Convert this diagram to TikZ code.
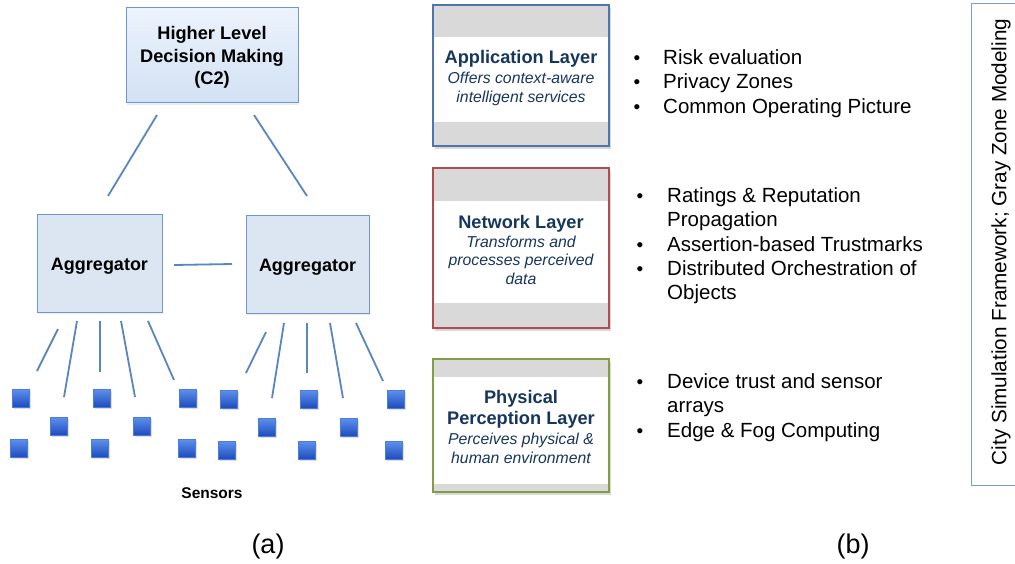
\documentclass[tikz,border=0pt]{standalone}
\usepackage{fontspec}
\setmainfont{Liberation Sans}
\usetikzlibrary{shadows}
\definecolor{boxline}{HTML}{6E98CC}
\definecolor{topA}{HTML}{ECF3FC}
\definecolor{topB}{HTML}{D2E1F4}
\definecolor{aggfill}{HTML}{DCE6F2}
\definecolor{wire}{HTML}{5A86C0}
\definecolor{sensA}{HTML}{5E92EC}
\definecolor{sensB}{HTML}{1E4BBD}
\definecolor{band}{HTML}{D9D9D9}
\definecolor{navy}{HTML}{17365D}
\definecolor{appline}{HTML}{4F76AB}
\definecolor{netline}{HTML}{B24B4B}
\definecolor{phyline}{HTML}{7F9E45}
\definecolor{sideline}{HTML}{7A9CCB}
\tikzset{
  topbox/.style={draw=boxline, line width=1pt, top color=topA, bottom color=topB,
    align=center, font=\bfseries\fontsize{18.2}{22.5}\selectfont,
    drop shadow={opacity=0.15, shadow xshift=1pt, shadow yshift=-2pt}},
  aggbox/.style={draw=boxline, line width=1pt, fill=aggfill,
    font=\bfseries\fontsize{18}{20}\selectfont,
    drop shadow={opacity=0.15, shadow xshift=1pt, shadow yshift=-2pt}},
  wireline/.style={draw=wire, line width=1.8pt},
  sensor/.style={draw=sensA!70!sensB, line width=0.5pt, top color=sensA, bottom color=sensB,
    minimum width=17pt, minimum height=18pt, inner sep=0pt,
    drop shadow={opacity=0.25, shadow xshift=1pt, shadow yshift=-1.5pt}},
  layerbox/.style={line width=1.2pt, fill=white,
    drop shadow={opacity=0.3, shadow xshift=1.5pt, shadow yshift=-2.5pt}},
  ltitle/.style={anchor=base, text=navy, font=\bfseries\fontsize{18.2}{20}\selectfont},
  lsub/.style={anchor=base, text=navy, font=\itshape\fontsize{15.8}{18}\selectfont},
  btxt/.style={anchor=base west, font=\fontsize{20.5}{24}\selectfont, inner sep=0pt},
  bdot/.style={anchor=base, font=\fontsize{19}{22}\selectfont, inner sep=0pt},
  caption/.style={font=\fontsize{27}{30}\selectfont}
}
\begin{document}
\begin{tikzpicture}[x=1pt,y=-1pt]
\useasboundingbox (0,0) rectangle (1015,563);
\fill[white] (0,0) rectangle (1015,563);

% ---------- (a) ----------
\node[topbox, minimum width=172pt, minimum height=95pt] (c2) at (212,55) {};
\node[align=center, font=\bfseries\fontsize{18.2}{22.5}\selectfont] (c2t) at (212,57.5) {Higher Level\\Decision Making\\(C2)};
\node[aggbox, minimum width=125pt, minimum height=98pt] (agg1) at (99.5,263) {};
\node[font=\bfseries\fontsize{18}{20}\selectfont] (agg1t) at (99.5,266) {Aggregator};
\node[aggbox, minimum width=123pt, minimum height=98pt] (agg2) at (307.5,264) {};
\node[font=\bfseries\fontsize{18}{20}\selectfont] (agg2t) at (307.5,267) {Aggregator};

\coordinate (t1a) at (157,115); \coordinate (t1b) at (108,196);
\coordinate (t2a) at (254,115); \coordinate (t2b) at (307,196);
\coordinate (m1) at (174,265); \coordinate (m2) at (232,264);
\draw[wireline] (t1a) -- (t1b);
\draw[wireline] (t2a) -- (t2b);
\draw[wireline] (m1) -- (m2);

\foreach \n/\xa/\ya/\xb/\yb in {
  a1/58/329/37/371, a2/77/321/64/397, a3/100/321/100/372, a4/121/321/135/397, a5/148/321/174/380,
  b1/266/332/246/373, b2/284/323/272/398, b3/307/323/307/373, b4/330/323/343/398, b5/356/323/383/381}{
  \coordinate (\n s) at (\xa,\ya);
  \coordinate (\n e) at (\xb,\yb);
  \draw[wireline] (\n s) -- (\n e);
}

\foreach \n/\x/\y in {
  s1/21/398, s2/102/398, s3/188/398, s4/229/399, s5/309/399, s6/396/399,
  s7/59/426, s8/142/426, s9/267/427, s10/349/427,
  s11/19/448, s12/100/448, s13/187/448, s14/227/450, s15/307/450, s16/394/450}{
  \node[sensor] (\n) at (\x,\y) {};
}
\node[font=\bfseries\fontsize{15.5}{18}\selectfont] (sensors) at (212,493) {Sensors};
\node[caption] (capa) at (268,547) {(a)};

% ---------- (b) ----------
% Application layer
\path[layerbox, draw=appline] (433,5) rectangle (609,146);
\fill[band] (433,5) rectangle (609,37);
\fill[band] (433,122) rectangle (609,146);
\draw[appline, line width=1.2pt] (433,5) rectangle (609,146);
\node[ltitle] (appt) at (521,63) {Application Layer};
\node[lsub] (apps1) at (521,83) {Offers context-aware};
\node[lsub] (apps2) at (521,102) {intelligent services};

% Network layer
\path[layerbox, draw=netline] (433,168) rectangle (609,328);
\fill[band] (433,168) rectangle (609,201);
\fill[band] (433,303) rectangle (609,328);
\draw[netline, line width=1.2pt] (433,168) rectangle (609,328);
\node[ltitle] (nett) at (521,228) {Network Layer};
\node[lsub] (nets1) at (521,247) {Transforms and};
\node[lsub] (nets2) at (521,265.5) {processes perceived};
\node[lsub] (nets3) at (521,284) {data};

% Physical layer
\path[layerbox, draw=phyline] (433,359) rectangle (609,492);
\fill[band] (433,359) rectangle (609,377);
\fill[band] (433,484) rectangle (609,492);
\draw[phyline, line width=1.2pt] (433,359) rectangle (609,492);
\node[ltitle] (phyt1) at (521,403) {Physical};
\node[ltitle] (phyt2) at (521,424.5) {Perception Layer};
\node[lsub] (phys1) at (521,444) {Perceives physical \&};
\node[lsub] (phys2) at (521,463) {human environment};

% bullets
\node[bdot] (d1) at (637,64) {•};  \node[btxt] (b1) at (663,64) {Risk evaluation};
\node[bdot] (d2) at (637,88) {•};  \node[btxt] (b2) at (663,88) {Privacy Zones};
\node[bdot] (d3) at (637,113) {•}; \node[btxt] (b3) at (663,113) {Common Operating Picture};

\node[bdot] (d4) at (640,202) {•}; \node[btxt] (b4) at (667,202) {Ratings \& Reputation};
\node[btxt] (b4b) at (667,226.5) {Propagation};
\node[bdot] (d5) at (640,251) {•}; \node[btxt] (b5) at (667,251) {Assertion-based Trustmarks};
\node[bdot] (d6) at (640,275) {•}; \node[btxt] (b6) at (667,275) {Distributed Orchestration of};
\node[btxt] (b6b) at (667,299.5) {Objects};

\node[bdot] (d7) at (640,388) {•}; \node[btxt] (b7) at (667,388) {Device trust and sensor};
\node[btxt] (b7b) at (667,412) {arrays};
\node[bdot] (d8) at (640,437) {•}; \node[btxt] (b8) at (667,437) {Edge \& Fog Computing};

\node[caption] (capb) at (853,547) {(b)};

% side box
\draw[sideline, line width=1pt] (1030,3) -- (971,3) -- (971,485) -- (1030,485);
\node[rotate=90, font=\fontsize{20.7}{24}\selectfont] (side) at (1001,242) {City Simulation Framework; Gray Zone Modeling};
\end{tikzpicture}
\end{document}
